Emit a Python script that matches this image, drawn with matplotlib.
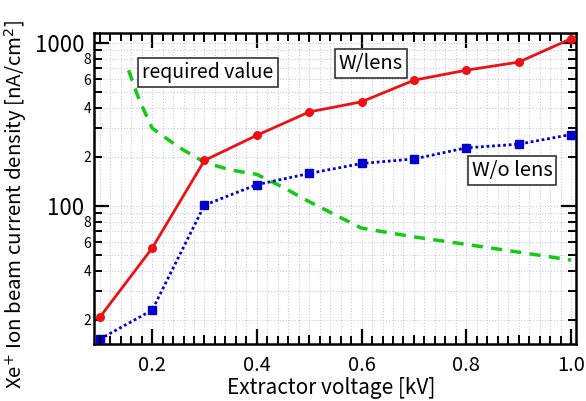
import numpy as np
import matplotlib
matplotlib.use('Agg')
import matplotlib.pyplot as plt
from matplotlib.ticker import MultipleLocator, LogLocator, FixedLocator, FuncFormatter

plt.rcParams['font.family'] = ['Noto Sans CJK JP', 'DejaVu Sans']

# 引出し電圧 [kV]
voltage = [0.1, 0.2, 0.3, 0.4, 0.5, 0.6, 0.7, 0.8, 0.9, 1.0]
w_lens = [20.7, 55, 190, 271, 377, 435, 590, 680, 762, 1060]
wo_lens = [15.2, 22.9, 101, 135, 158, 182, 194, 227, 239, 274]

# required value curve
req_x = [0.155, 0.175, 0.2, 0.25, 0.3, 0.35, 0.4, 0.45, 0.5, 0.55, 0.6, 0.7, 0.8, 0.9, 1.0]
req_y = [680, 450, 300, 230, 185, 166, 156, 130, 106, 88, 73, 64.5, 58, 52, 46.5]

fig = plt.figure(figsize=(5.86, 4.01), dpi=100)
ax = fig.add_axes([94/586, 1-344/401, 482/586, 311/401])

ax.plot(req_x, req_y, color='#11cc11', lw=2.5, ls=(0, (3.2, 2.4)), zorder=3)
ax.plot(voltage, wo_lens, color='#0000cc', lw=2, ls=(0, (1, 1)), marker='s', ms=5.5, zorder=4)
ax.plot(voltage, w_lens, color='#ee1111', lw=2, marker='o', ms=5.5, zorder=5)

ax.set_yscale('log')
ax.set_xlim(0.089, 1.0095)
ax.set_ylim(14.2, 1150)

# x ticks
ax.xaxis.set_major_locator(MultipleLocator(0.2))
ax.xaxis.set_minor_locator(MultipleLocator(0.02))
ax.xaxis.set_major_formatter(FuncFormatter(lambda v, p: '%.1f' % v))

# y ticks
def minor_label(v, p):
    d = int(round(v / 10 ** np.floor(np.log10(v) + 1e-9)))
    return str(d) if d in (2, 4, 6, 8) else ''

ax.yaxis.set_major_locator(FixedLocator([100, 1000]))
ax.yaxis.set_major_formatter(FuncFormatter(lambda v, p: '%d' % v))
ax.yaxis.set_minor_locator(LogLocator(base=10, subs=np.arange(2, 10)))
ax.yaxis.set_minor_formatter(FuncFormatter(minor_label))

ax.tick_params(which='both', direction='in', top=True, right=True)
ax.tick_params(axis='x', which='major', length=11, width=1.6, labelsize=14.5, pad=8)
ax.tick_params(axis='x', which='minor', length=6, width=1.4)
ax.tick_params(axis='y', which='major', length=11, width=1.6, labelsize=16, pad=7)
ax.tick_params(axis='y', which='minor', length=6, width=1.4, labelsize=10, pad=2)

# 0.1刻みの中目盛り
for xv in [0.1, 0.3, 0.5, 0.7, 0.9]:
    ax.plot([xv, xv], [0, 0.027], transform=ax.get_xaxis_transform(), color='black', lw=1.4, clip_on=False, zorder=6)
    ax.plot([xv, xv], [1, 1-0.027], transform=ax.get_xaxis_transform(), color='black', lw=1.4, clip_on=False, zorder=6)

ax.grid(which='both', color='#cacaee', ls=':', lw=0.8)
ax.set_axisbelow(True)
for s in ax.spines.values():
    s.set_linewidth(1.8)

box = dict(boxstyle='square,pad=0.2', fc='white', ec='#333333', lw=1.2)
ax.text(208, 401-72.5, 'required value', transform=None, fontsize=14, ha='center', va='center', bbox=box, zorder=7)
ax.text(371, 401-63.5, 'W/lens', transform=None, fontsize=14.5, ha='center', va='center', bbox=box, zorder=7)
ax.text(512, 401-170.5, 'W/o lens', transform=None, fontsize=14.5, ha='center', va='center', bbox=box, zorder=7)

fig.text(331.5/586, 1-388/401, 'Extractor voltage [kV]', fontsize=15, ha='center', va='center')
fig.text(16/586, 1-204/401, r'Xe$^{+}$ Ion beam current density [nA/cm$^{2}$]',
         fontsize=14.7, ha='center', va='center', rotation=90)

fig.savefig('out.png', dpi=100)
